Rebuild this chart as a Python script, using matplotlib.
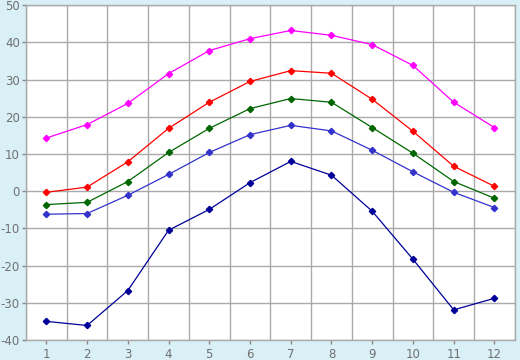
import matplotlib
matplotlib.use("Agg")
import matplotlib.pyplot as plt

plt.rcParams["axes.unicode_minus"] = False

months = list(range(1, 13))

s_magenta = [14.3, 17.9, 23.6, 31.6, 37.8, 41.0, 43.2, 41.9, 39.4, 33.8, 23.9, 17.1]
s_red = [-0.3, 1.1, 7.9, 16.9, 23.9, 29.5, 32.4, 31.7, 24.7, 16.1, 6.7, 1.3]
s_green = [-3.6, -3.0, 2.6, 10.4, 16.9, 22.2, 24.9, 23.9, 17.1, 10.2, 2.6, -1.9]
s_blue = [-6.2, -6.0, -1.1, 4.5, 10.4, 15.2, 17.7, 16.2, 11.0, 5.2, -0.3, -4.4]
s_navy = [-35.0, -36.1, -26.7, -10.5, -4.9, 2.3, 8.0, 4.3, -5.4, -18.3, -31.9, -28.8]

series = [
    (s_magenta, "#ff00ff"),
    (s_red, "#ff0000"),
    (s_green, "#006600"),
    (s_blue, "#3333cc"),
    (s_navy, "#000099"),
]

fig = plt.figure(figsize=(5.2, 3.6), dpi=100)
fig.patch.set_facecolor("#d9f0f7")
ax = fig.add_axes([0.05, 0.0556, 0.940, 0.930])
ax.set_facecolor("white")

for vals, col in series:
    ax.plot(months, vals, color=col, lw=0.9, marker="D", ms=3.2,
            mec=col, mfc=col, zorder=3)

ax.set_xlim(0.5, 12.5)
ax.set_ylim(-40, 50)
ax.set_xticks(months)
ax.set_xticks([m + 0.5 for m in range(0, 13)], minor=True)
ax.set_yticks(range(-40, 51, 10))
ax.grid(False)
ax.grid(True, which="minor", axis="x", color="#aaaaaa", lw=1)
ax.grid(True, which="major", axis="y", color="#aaaaaa", lw=1)
ax.set_axisbelow(True)
ax.tick_params(which="major", length=3, width=1, color="#888888",
               labelsize=8.5, labelcolor="#707070", pad=1.5)
ax.tick_params(which="minor", length=0)
ax.tick_params(axis="x", pad=3)
for sp in ax.spines.values():
    sp.set_color("#aaaaaa")
    sp.set_linewidth(1)

fig.savefig("out.png", dpi=100, facecolor=fig.get_facecolor())
